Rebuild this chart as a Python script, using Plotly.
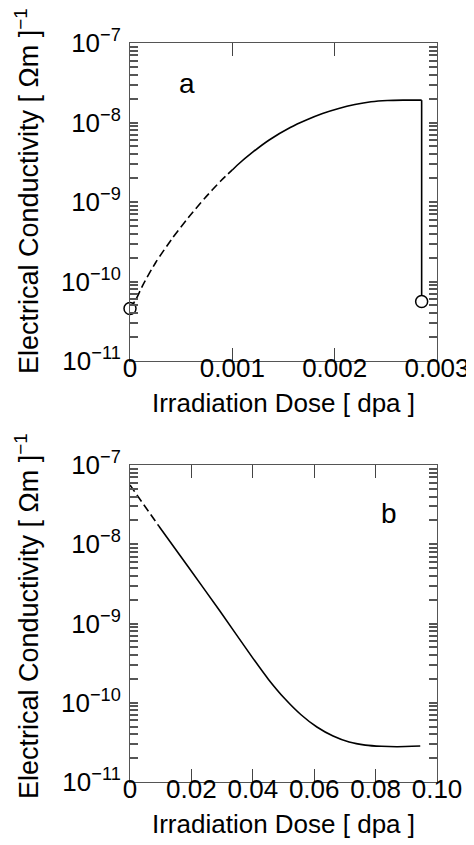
import plotly.graph_objects as go
from plotly.subplots import make_subplots

# ---------------- data ----------------
# Panel a
a_dash_x = [0.0, 0.0000588, 0.000128, 0.000254, 0.000412, 0.000571, 0.000728, 0.000886, 0.001000]
a_dash_y = [4.57e-11, 5.98e-11, 9.16e-11, 1.76e-10, 3.47e-10, 6.38e-10, 1.107e-9, 1.84e-9, 2.53e-9]
a_solid_x = [0.001000, 0.0010445, 0.0012019, 0.0013602, 0.0015659, 0.0017232, 0.0018815,
             0.0020398, 0.0021972, 0.0023555, 0.0025137, 0.002668, 0.002850]
a_solid_y = [2.53e-9, 2.88e-9, 4.26e-9, 6.03e-9, 8.65e-9, 1.075e-8, 1.297e-8,
             1.50e-8, 1.68e-8, 1.82e-8, 1.89e-8, 1.91e-8, 1.91e-8]
a_drop_x = [0.00285, 0.00285]
a_drop_y = [1.91e-8, 5.6e-11]
a_circle_x = [0.0, 0.00285]
a_circle_y = [4.57e-11, 5.6e-11]

# Panel b
b_dash_x = [0.0, 0.009369]
b_dash_y = [5.58e-8, 1.70e-8]
b_solid_x = [0.009369, 0.018833, 0.029338, 0.039842, 0.045110, 0.050379, 0.055615,
             0.060883, 0.066151, 0.071388, 0.076656, 0.081924, 0.087161, 0.094543]
b_solid_y = [1.70e-8, 5.28e-9, 1.426e-9, 3.74e-10, 1.97e-10, 1.13e-10, 7.11e-11,
             4.94e-11, 3.80e-11, 3.19e-11, 2.92e-11, 2.82e-11, 2.79e-11, 2.84e-11]

# ticks / labels
a_xticks = [0, 0.001, 0.002, 0.003]
a_xticktext = ["0", "0.001", "0.002", "0.003"]
b_xticks = [0, 0.02, 0.04, 0.06, 0.08, 0.10]
b_xticktext = ["0", "0.02", "0.04", "0.06", "0.08", "0.10"]
y_decades = [-11, -10, -9, -8, -7]
y_major = [10.0 ** d for d in y_decades]
y_major_text = ["10<sup>\u2212%d</sup>" % (-d) for d in y_decades]
y_minor = [m * 10.0 ** d for d in y_decades[:-1] for m in range(2, 10)]
# all ticks on the base axis (short), labels only at decades
y_all = y_major + y_minor
y_all_text = y_major_text + [""] * len(y_minor)
x_title = "Irradiation Dose [ dpa ]"
y_title = "Electrical Conductivity [ \u03a9m ]<sup>\u22121</sup>"
panel_labels = ["a", "b"]

# ---------------- figure ----------------
FONT = "Liberation Sans, Arial, Helvetica, sans-serif"
fig = make_subplots(rows=2, cols=1, shared_xaxes=False, vertical_spacing=0.14)

line = dict(color="black", width=1.6)
dline = dict(color="black", width=1.6, dash="8px,4px")

fig.add_trace(go.Scatter(x=a_dash_x, y=a_dash_y, mode="lines",
                         line=dict(dline, shape="spline", smoothing=0.6)), row=1, col=1)
fig.add_trace(go.Scatter(x=a_solid_x, y=a_solid_y, mode="lines",
                         line=dict(line, shape="spline", smoothing=0.6)), row=1, col=1)
fig.add_trace(go.Scatter(x=a_drop_x, y=a_drop_y, mode="lines", line=line), row=1, col=1)
fig.add_trace(go.Scatter(x=a_circle_x, y=a_circle_y, mode="markers", cliponaxis=False,
                         marker=dict(symbol="circle", size=12, color="white",
                                     line=dict(color="black", width=1.5))),
              row=1, col=1)

fig.add_trace(go.Scatter(x=b_dash_x, y=b_dash_y, mode="lines", line=dline), row=2, col=1)
fig.add_trace(go.Scatter(x=b_solid_x, y=b_solid_y, mode="lines",
                         line=dict(line, shape="spline", smoothing=0.6)), row=2, col=1)

tickfont = dict(family=FONT, size=26, color="black")
xtitlefont = dict(family=FONT, size=26, color="black")
ytitlefont = dict(family=FONT, size=27, color="black")
y_range_log = [y_decades[0], y_decades[-1]]

common_x = dict(showline=True, linecolor="#555", linewidth=1, mirror="ticks",
                ticks="inside", ticklen=13, tickcolor="#444", tickwidth=1.2,
                showgrid=False, zeroline=False, tickfont=tickfont,
                ticklabelstandoff=-16,
                title=dict(text=x_title, font=xtitlefont, standoff=11))
common_y = dict(type="log", range=y_range_log, showline=True, linecolor="#555", linewidth=1,
                mirror="ticks", ticks="inside", ticklen=8, tickcolor="#555", tickwidth=1.5,
                showgrid=False, zeroline=False, tickfont=tickfont,
                tickmode="array", tickvals=y_all, ticktext=y_all_text, ticklabelstandoff=3)
# long decade ticks drawn by an overlaid axis
long_y = dict(type="log", range=y_range_log, showline=False, mirror="ticks",
              ticks="inside", ticklen=14, tickcolor="#333", tickwidth=1.2,
              showgrid=False, zeroline=False, showticklabels=False,
              tickmode="array", tickvals=y_major, side="left")

fig.update_xaxes(common_x, range=[0, 0.003], tickvals=a_xticks, ticktext=a_xticktext,
                 row=1, col=1)
fig.update_xaxes(common_x, range=[0, 0.10], tickvals=b_xticks, ticktext=b_xticktext,
                 row=2, col=1)
fig.update_yaxes(common_y, row=1, col=1)
fig.update_yaxes(common_y, row=2, col=1)

H = 845
top, bot = 35, 71
ph = H - top - bot
left, right = 122, 36
pw = 474 - left - right
fig.update_layout(
    yaxis=dict(domain=[(774 - 353) / ph, 1.0]),
    yaxis2=dict(domain=[0.0, (774 - 457) / ph]),
    yaxis3=dict(long_y, overlaying="y", anchor="x"),
    yaxis4=dict(long_y, overlaying="y2", anchor="x2"),
    width=474, height=845,
    margin=dict(l=left, r=right, t=top, b=bot),
    paper_bgcolor="white", plot_bgcolor="white",
    showlegend=False,
    font=dict(family=FONT, color="black"),
)

# y-axis titles (rotated), one per panel
for yc in (183, 608):
    fig.add_annotation(x=(16 - left) / pw, y=(774 - yc) / ph, xref="paper", yref="paper",
                       text=y_title, textangle=-90, showarrow=False,
                       xanchor="center", yanchor="middle", font=ytitlefont)

fig.add_annotation(x=0.000554, y=-7.51, xref="x", yref="y", text=panel_labels[0],
                   showarrow=False, font=dict(family=FONT, size=28, color="black"))
fig.add_annotation(x=0.0845, y=-7.61, xref="x2", yref="y2", text=panel_labels[1],
                   showarrow=False, font=dict(family=FONT, size=28, color="black"))

fig.write_html("out.html")
